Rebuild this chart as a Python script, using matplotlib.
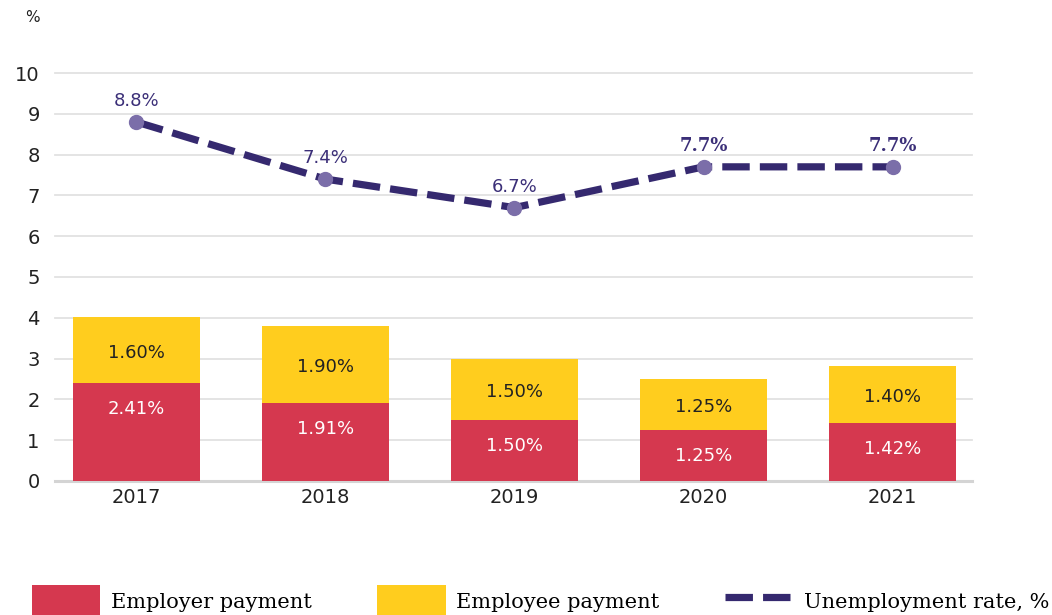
import matplotlib

matplotlib.use("Agg")
import matplotlib.pyplot as plt
import numpy as np
from matplotlib.lines import Line2D
from matplotlib.patches import Patch

years = ["2017", "2018", "2019", "2020", "2021"]
employer = [2.41, 1.91, 1.50, 1.25, 1.42]
employee = [1.60, 1.90, 1.50, 1.25, 1.40]
unemployment = [8.8, 7.4, 6.7, 7.7, 7.7]
yticks = list(range(0, 11))

RED = "#d5384f"
YELLOW = "#ffcd1e"
PURPLE = "#35296f"
MARKER = "#7b6ea9"
TEXT = "#222222"

plt.rcParams["font.family"] = ["DejaVu Sans"]

fig = plt.figure(figsize=(10.52, 6.15), dpi=100)
ax = fig.add_axes([0.0523, 0.2179, 0.8717, 0.6634])

x = np.arange(len(years))
width = 0.67

ax.bar(x, employer, width=width, color=RED, zorder=2)
ax.bar(x, employee, width=width, bottom=employer, color=YELLOW, zorder=2)

for xi, e, w in zip(x, employer, employee):
    ax.annotate(f"{e:.2f}%", (xi, e), xytext=(0, -19), textcoords="offset points",
                ha="center", va="center", color="white", fontsize=13, zorder=4)
    ax.annotate(f"{w:.2f}%", (xi, e + w / 2), xytext=(0, -2), textcoords="offset points",
                ha="center", va="center", color=TEXT, fontsize=13, zorder=4)

ax.plot(x, unemployment, color=PURPLE, linewidth=5.2, linestyle=(0, (3.8, 1.4)),
        zorder=3, dash_capstyle="butt")
ax.plot(x, unemployment, linestyle="none", marker="o", markersize=10,
        color=MARKER, zorder=4)

for i, (xi, u) in enumerate(zip(x, unemployment)):
    if i >= 3:
        kw = dict(family="DejaVu Serif", fontweight="bold")
    else:
        kw = {}
    ax.annotate(f"{u:.1f}%", (xi, u), xytext=(0, 15), textcoords="offset points",
                ha="center", va="center", color="#3b2f78", fontsize=13, zorder=5, **kw)

ax.set_xlim(-0.43, 4.42)
ax.set_ylim(0, 10)
ax.set_xticks(x)
ax.set_xticklabels(years)
ax.set_yticks(yticks)
ax.tick_params(axis="both", length=0, labelsize=14, colors=TEXT)
ax.tick_params(axis="y", pad=11)
ax.tick_params(axis="x", pad=5)
for lab in ax.get_yticklabels():
    lab.set_horizontalalignment("right")

ax.grid(axis="y", color="#e2e2e2", linewidth=1.3, zorder=0)
ax.set_axisbelow(True)
for gl in ax.get_ygridlines():
    gl.set_clip_on(False)
for side in ["top", "right", "left"]:
    ax.spines[side].set_visible(False)
ax.spines["bottom"].set_color("#d4d4d4")
ax.spines["bottom"].set_linewidth(2.2)
ax.spines["bottom"].set_zorder(1)

fig.text(0.031, 0.972, "%", fontsize=11, color=TEXT, ha="center", va="center")

handles = [
    Patch(facecolor=RED, label="Employer payment"),
    Patch(facecolor=YELLOW, label="Employee payment"),
    Line2D([0], [0], color=PURPLE, linewidth=5.2, linestyle=(0, (3.8, 1.4)),
           label="Unemployment rate, %"),
]
fig.legend(handles=handles, loc="lower left", bbox_to_anchor=(0.03, -0.004), ncol=3,
           frameon=False, handlelength=3.3, handleheight=2.0, handletextpad=0.5,
           columnspacing=3.15, borderpad=0, borderaxespad=0,
           prop={"family": "DejaVu Serif", "size": 15})

fig.savefig("out.png", dpi=100)
plt.close(fig)
